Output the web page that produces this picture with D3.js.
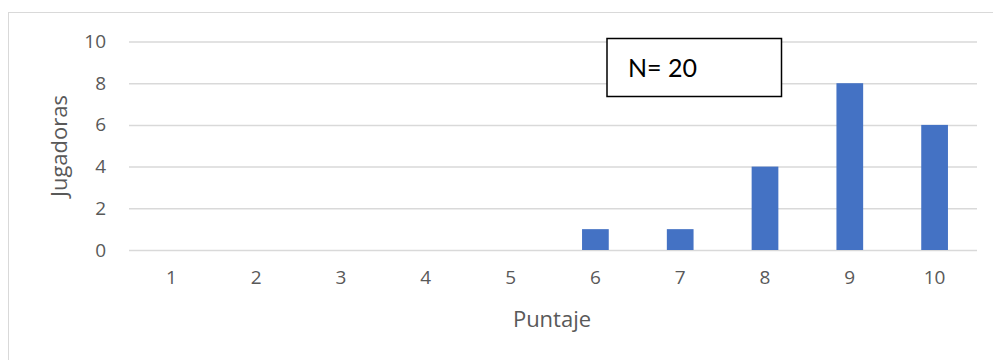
<!DOCTYPE html>
<html>
<head>
<meta charset="utf-8">
<script src="https://cdn.jsdelivr.net/npm/d3@7"></script>
<style>
  html, body { margin: 0; padding: 0; background: #fff; }
  svg { display: block; font-family: "Open Sans", sans-serif; }
</style>
</head>
<body>
<svg id="chart" width="993" height="360"></svg>
<script>
// Distribution of scores (Puntaje) among players (Jugadoras)
const categories = ["1", "2", "3", "4", "5", "6", "7", "8", "9", "10"];
const jugadoras = [0, 0, 0, 0, 0, 1, 1, 4, 8, 6];
const yTicks = [0, 2, 4, 6, 8, 10];
const sampleLabel = "N= 20";

const svg = d3.select("#chart");
const textColor = "#595959";

// chart frame
svg.append("rect")
  .attr("x", 8.5).attr("y", 12.5)
  .attr("width", 1000).attr("height", 400)
  .attr("fill", "#fff")
  .attr("stroke", "#d9d9d9").attr("stroke-width", 1);

const plot = { left: 129, right: 977, top: 41.5, bottom: 250 };

const x = d3.scaleBand()
  .domain(categories)
  .range([plot.left, plot.right])
  .paddingInner(0.685)
  .paddingOuter(0.3425);

const y = d3.scaleLinear()
  .domain([0, 10])
  .range([plot.bottom, plot.top]);

// horizontal gridlines with value labels
const yAxis = d3.axisLeft(y)
  .tickValues(yTicks)
  .tickSize(-(plot.right - plot.left))
  .tickPadding(23);

const gy = svg.append("g")
  .attr("transform", `translate(${plot.left},0)`)
  .call(yAxis);
gy.select(".domain").remove();
gy.selectAll(".tick line").attr("stroke", "#d9d9d9").attr("stroke-width", 1.5);
gy.selectAll(".tick text")
  .attr("fill", textColor)
  .style("font-size", "19px")
  .style("font-family", "'Open Sans', sans-serif");

// category labels below the baseline
const xAxis = d3.axisBottom(x).tickSize(0).tickPadding(21);
const gx = svg.append("g")
  .attr("transform", `translate(0,${plot.bottom})`)
  .call(xAxis);
gx.select(".domain").remove();
gx.selectAll(".tick text")
  .attr("fill", textColor)
  .style("font-size", "19px")
  .style("font-family", "'Open Sans', sans-serif");

// bars
svg.append("g")
  .selectAll("rect")
  .data(jugadoras)
  .join("rect")
  .attr("x", (d, i) => x(categories[i]))
  .attr("width", x.bandwidth())
  .attr("y", d => y(d))
  .attr("height", d => y(0) - y(d))
  .attr("fill", "#4472C4");

// axis titles
svg.append("text")
  .attr("x", 552)
  .attr("y", 327)
  .attr("text-anchor", "middle")
  .attr("fill", textColor)
  .style("font-size", "22px")
  .text("Puntaje");

svg.append("text")
  .attr("transform", "translate(67,146) rotate(-90)")
  .attr("text-anchor", "middle")
  .attr("fill", textColor)
  .style("font-size", "22px")
  .text("Jugadoras");

// sample size box
const box = svg.append("g");
box.append("rect")
  .attr("x", 607).attr("y", 38.5)
  .attr("width", 174.5).attr("height", 58)
  .attr("fill", "#fff")
  .attr("stroke", "#000").attr("stroke-width", 1.5);
box.append("text")
  .attr("x", 628).attr("y", 77)
  .attr("fill", "#000")
  .style("font-family", "Lato, sans-serif")
  .style("font-size", "25px")
  .text(sampleLabel);
</script>
</body>
</html>
